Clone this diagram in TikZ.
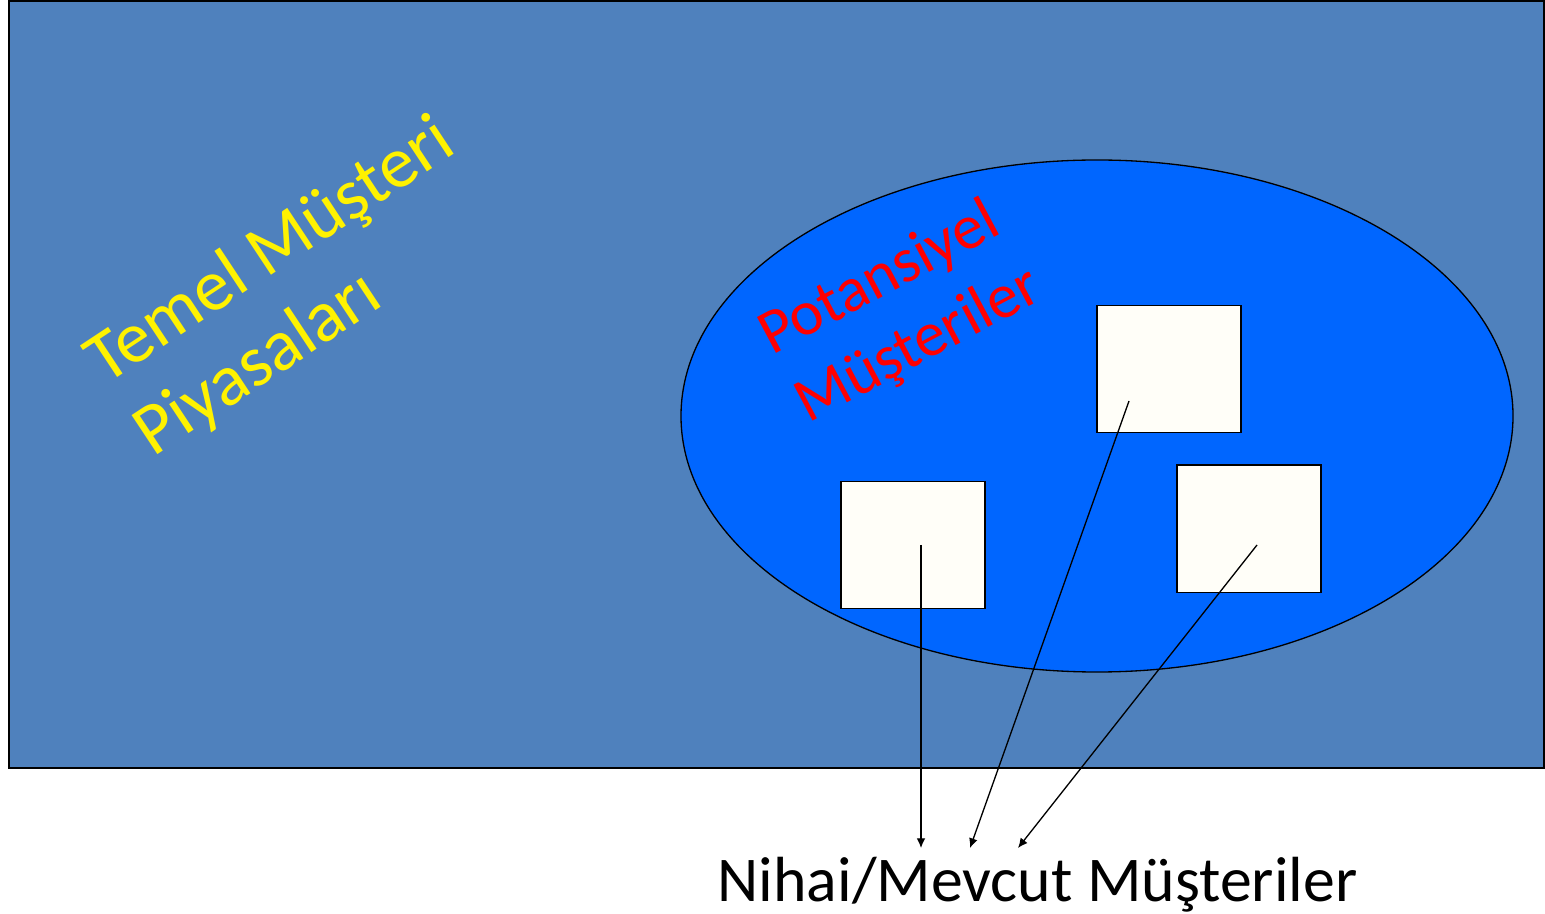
\documentclass[tikz,border=0pt]{standalone}
\usepackage{fontspec}
\setmainfont{Carlito}
\usetikzlibrary{arrows.meta, shapes.geometric, positioning, calc}
\definecolor{pazarmavi}{RGB}{79,129,189}
\definecolor{potmavi}{RGB}{0,102,255}
\definecolor{kutubeyaz}{RGB}{255,254,248}
\tikzset{> = { Latex[length = 5.5pt, width = 5pt] }}

\begin{document}
\begin{tikzpicture}[x = 0.2mm, y = -0.2mm,
		kutu/.style = { draw, line width = 0.8pt, fill = kutubeyaz, minimum width = 144*0.2mm, minimum height = 127.5*0.2mm, inner sep = 0 },
		etiket/.style = { inner sep = 0, align = left, anchor = base west }]
		\useasboundingbox (0,0) rectangle (1545,914);

		\node [draw, line width = 1.1pt, fill = pazarmavi, minimum width = 307.1mm, minimum height = 153.5mm, inner sep = 0] (pazar) at (776.6, 384.7) {};
		\node [ellipse, draw, line width = 0.75pt, fill = potmavi, minimum width = 166.4mm, minimum height = 102.4mm, inner sep = 0] (potansiyel) at (1097, 416) {};

		\node [kutu] (kutuB) at (1169, 369) {};
		\node [kutu] (kutuA) at (913, 545) {};
		\node [kutu] (kutuC) at (1249, 528.7) {};

		% base of a two-line node is the last line
		\node [etiket, rotate = 33.5, text = yellow, font = \fontsize{41.5}{49.5}\selectfont] (temel) at (153, 458) {Temel Müşteri\\Piyasaları};
		\node [etiket, rotate = 28, text = red, font = \fontsize{36}{44}\selectfont] (potyazi) at (808, 424) {Potansiyel\\Müşteriler};
		\node [inner sep = 0, anchor = base, font = \fontsize{36.3}{43}\selectfont] (nihai) at (1037.5, 901) {Nihai/Mevcut Müşteriler};

		% arrow ends sit just above the label
		\coordinate (hedefA) at (921, 848);
		\coordinate (hedefB) at (970, 848);
		\coordinate (hedefC) at (1018, 848);

		\draw [->, line width = 0.75pt] ($(kutuA.center)+(8,0)$) -- (hedefA);
		\draw [->, line width = 0.75pt] ($(kutuB.center)+(-40,32)$) -- (hedefB);
		\draw [->, line width = 0.75pt] ($(kutuC.center)+(8,16.3)$) -- (hedefC);
	\end{tikzpicture}
\end{document}
